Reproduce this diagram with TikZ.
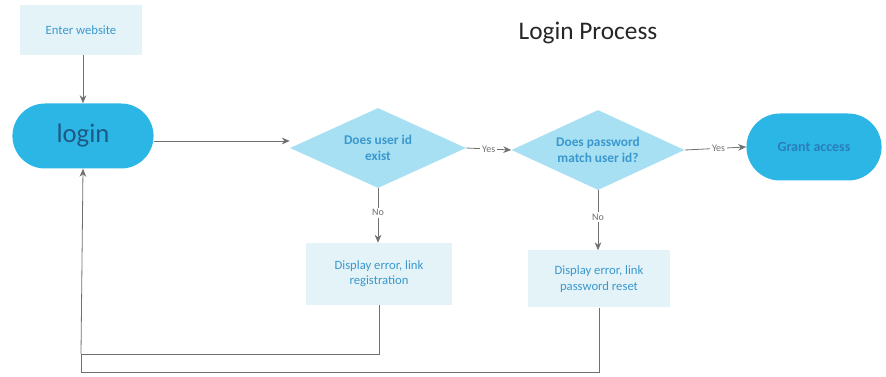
\documentclass[tikz,border=0pt]{standalone}
\usepackage{fontspec}
\setmainfont{Carlito}
\usetikzlibrary{shapes.geometric,shapes.misc,arrows.meta}
\definecolor{pillc}{HTML}{2BB6E6}
\definecolor{diamc}{HTML}{A6E0F2}
\definecolor{boxc}{HTML}{E3F3F7}
\definecolor{txtc}{HTML}{3A98CF}
\definecolor{granttxt}{HTML}{2A7DBA}
\definecolor{darktxt}{HTML}{1E5A85}
\definecolor{linec}{HTML}{707070}
\tikzset{
  pill/.style={rounded rectangle, fill=pillc, draw=none, minimum height=65*0.75pt, align=center},
  decision/.style={diamond, fill=diamc, draw=none, aspect=2.2, minimum width=176*0.75pt, minimum height=80*0.75pt, inner sep=0pt, align=center, text=txtc, font=\fontsize{10}{11.5}\selectfont\bfseries},
  procbox/.style={rectangle, fill=boxc, draw=none, align=center, text=txtc, font=\fontsize{9.5}{11.5}\selectfont},
  conn/.style={draw=linec, line width=0.6pt, -{Stealth[length=6pt,width=5pt]}},
  plainconn/.style={draw=linec, line width=0.6pt},
  lbl/.style={font=\fontsize{7.5}{9}\selectfont, text=linec, fill=white, inner sep=1.5pt}
}
\begin{document}
\begin{tikzpicture}[x=0.75pt,y=-0.75pt]
\useasboundingbox (0,0) rectangle (886,377);
\node[procbox, minimum width=122*0.75pt, minimum height=50*0.75pt, font=\fontsize{9.5}{11}\selectfont] (enter) at (81,30) {Enter website};
\node[font=\fontsize{19}{22}\selectfont, text=black!85] (title) at (588,33) {Login Process};
\node[pill, minimum width=150*0.75pt, text=darktxt, font=\fontsize{20}{23}\selectfont] (login) at (83,136) {login};
\node[decision] (d1) at (378,148) {Does user id\\exist};
\node[decision, minimum width=173*0.75pt] (d2) at (598,150) {Does password\\match user id?};
\node[pill, minimum width=144*0.75pt, minimum height=67*0.75pt, text=granttxt, font=\fontsize{10.5}{12}\selectfont\bfseries] (grant) at (814,147) {Grant access};
\node[procbox, minimum width=146*0.75pt, minimum height=62*0.75pt] (b1) at (379,274) {Display error, link\\registration};
\node[procbox, minimum width=142*0.75pt, minimum height=57*0.75pt] (b2) at (599,279) {Display error, link\\password reset};
\coordinate (c1) at (379,354);
\coordinate (c2) at (599,372);
\coordinate (l1) at (81,354);
\coordinate (l2) at (81,372);
\draw[conn] (enter.south -| login.north) -- (login.north);
\draw[conn] (login.east |- 0,141) -- (d1.west |- 0,141);
\draw[conn] (d1.east) -- node[lbl, pos=0.5] {Yes} (d2.west);
\draw[conn] (d2.east) -- node[lbl, pos=0.55] {Yes} (grant.west);
\draw[conn] (d1.south) -- node[lbl, pos=0.45] {No} (b1.north -| d1.south);
\draw[conn] (d2.south) -- node[lbl, pos=0.45] {No} (b2.north -| d2.south);
\draw[plainconn] (b1.south) -- (c1) -- (l1);
\draw[plainconn] (b2.south) -- (c2) -- (l2) -- (l1);
\draw[conn] (l1) -- (login.south);
\end{tikzpicture}
\end{document}
